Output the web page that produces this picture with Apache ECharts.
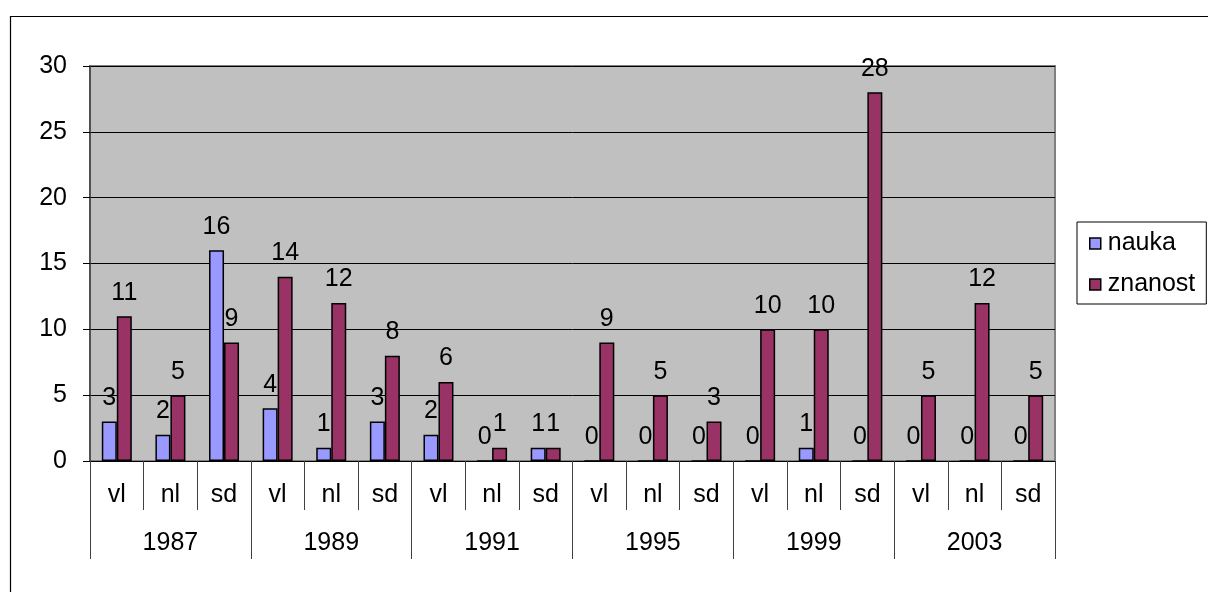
<!DOCTYPE html>
<html>
<head>
<meta charset="utf-8">
<script src="https://cdn.jsdelivr.net/npm/echarts@6/dist/echarts.min.js"></script>
<style>
html,body{margin:0;padding:0;background:#fff;}
#chart{width:1208px;height:592px;}
</style>
</head>
<body>
<div id="chart"></div>
<script>
const subCategories = ['vl','nl','sd','vl','nl','sd','vl','nl','sd','vl','nl','sd','vl','nl','sd','vl','nl','sd'];
const years = ['1987','1989','1991','1995','1999','2003'];
const nauka = [3,2,16, 4,1,3, 2,0,1, 0,0,0, 0,1,0, 0,0,0];
const znanost = [11,5,9, 14,12,8, 6,1,1, 9,5,3, 10,10,28, 5,12,5];
const yTicks = {min:0, max:30, interval:5};

const FONT = 'Liberation Sans, Arial, sans-serif';
const FS = 25;
const chart = echarts.init(document.getElementById('chart'), null, {renderer:'canvas'});
const labelCfg = {show:true, position:'top', distance:11, color:'#000', fontSize:FS, fontFamily:FONT};
chart.setOption({
  animation:false,
  textStyle:{fontFamily:FONT},
  graphic:[{type:'rect', shape:{x:10.5,y:16.5,width:1400,height:800}, style:{fill:null, stroke:'#000', lineWidth:1.2}, silent:true}],
  legend:{
    orient:'vertical', left:1077, top:222,
    data:['nauka','znanost'],
    icon:'rect', itemWidth:11, itemHeight:11, itemGap:16,
    padding:[9,11,7,12],
    borderColor:'#000', borderWidth:1,
    textStyle:{fontSize:FS, fontFamily:FONT, color:'#000', padding:[0,0,0,2]},
    itemStyle:{borderColor:'#000', borderWidth:1.5}
  },
  grid:{left:90, right:153, top:66, bottom:131, show:true, backgroundColor:'#C0C0C0', borderColor:'#808080', borderWidth:2},
  xAxis:[
    {type:'category', data:subCategories, position:'bottom',
     axisLine:{show:true, lineStyle:{color:'#000', width:1}},
     axisTick:{show:true, interval:0, length:49, lineStyle:{color:'#404040', width:1}},
     axisLabel:{interval:0, margin:22, fontSize:FS, color:'#000', fontFamily:FONT}},
    {type:'category', data:years, position:'bottom',
     axisLine:{show:false},
     axisTick:{show:true, interval:0, length:98, lineStyle:{color:'#404040', width:1}},
     axisLabel:{interval:0, margin:70, fontSize:FS, color:'#000', fontFamily:FONT}}
  ],
  yAxis:{type:'value', min:yTicks.min, max:yTicks.max, interval:yTicks.interval,
    axisLine:{show:true, lineStyle:{color:'#404040', width:1.5}},
    axisTick:{show:true, length:7, lineStyle:{color:'#000'}},
    splitLine:{show:true, lineStyle:{color:'#000', width:1}},
    axisLabel:{fontSize:FS, color:'#000', margin:23, fontFamily:FONT}},
  series:[
    {name:'nauka', type:'bar', data:nauka, barWidth:15, barGap:'0%', xAxisIndex:0,
     itemStyle:{color:'#9999FF', borderColor:'#000', borderWidth:1.5}, label:labelCfg},
    {name:'znanost', type:'bar', data:znanost, barWidth:15, barGap:'0%', xAxisIndex:0,
     itemStyle:{color:'#993366', borderColor:'#000', borderWidth:1.5}, label:labelCfg}
  ]
});
</script>
</body>
</html>
